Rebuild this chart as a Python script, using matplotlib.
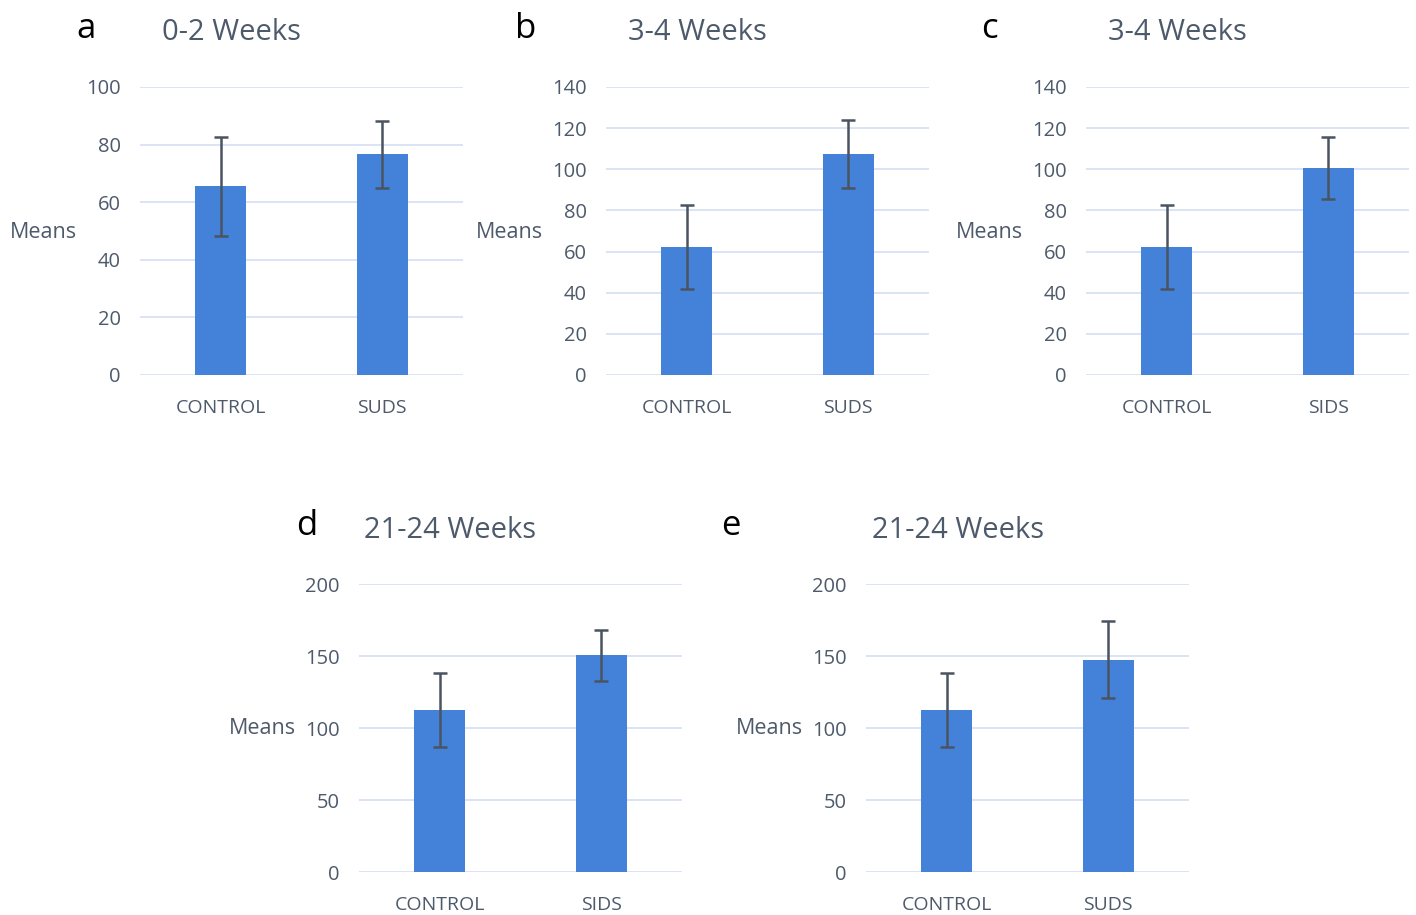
import matplotlib.pyplot as plt

W, H = 1416, 915

panel_letters = ["a", "b", "c", "d", "e"]
panel_titles = ["0-2 Weeks", "3-4 Weeks", "3-4 Weeks", "21-24 Weeks", "21-24 Weeks"]
categories = [
    ["CONTROL", "SUDS"],
    ["CONTROL", "SUDS"],
    ["CONTROL", "SIDS"],
    ["CONTROL", "SIDS"],
    ["CONTROL", "SUDS"],
]
means = [
    [65.5, 76.7],
    [62.2, 107.4],
    [62.2, 100.6],
    [112.5, 150.5],
    [112.5, 147.5],
]
errors = [
    [17.3, 11.6],
    [20.2, 16.4],
    [20.2, 15.0],
    [26.0, 17.7],
    [26.0, 27.0],
]
y_max = [100, 140, 140, 200, 200]
y_step = [20, 20, 20, 50, 50]

# axes boxes in pixels: left, top, right, bottom
boxes = [
    (140, 87, 463, 375),
    (606, 87, 929, 375),
    (1086, 87, 1409, 375),
    (359, 584, 682, 872),
    (866, 584, 1189, 872),
]
letter_x = [86, 526, 989, 307, 731]
title_x = [162, 628, 1108, 364, 872]

BAR = "#4482DA"
GRID = "#D3DFF3"
TXT = "#4D5A6B"
ERR = "#4A5461"

plt.rcParams["font.family"] = ["Open Sans", "DejaVu Sans"]

fig = plt.figure(figsize=(W / 100, H / 100), dpi=100)

for i in range(5):
    l, t, r, b = boxes[i]
    ax = fig.add_axes([l / W, 1 - b / H, (r - l) / W, (b - t) / H])
    x = list(range(len(categories[i])))
    ax.bar(x, means[i], width=0.316, color=BAR, zorder=3)
    ax.errorbar(x, means[i], yerr=errors[i], fmt="none", ecolor=ERR,
                elinewidth=1.8, capsize=5, capthick=1.8, zorder=4)
    ax.set_xlim(-0.5, len(x) - 0.5)
    ax.set_ylim(0, y_max[i])
    ax.set_yticks(range(0, y_max[i] + 1, y_step[i]))
    ax.set_xticks(x)
    ax.set_xticklabels(categories[i], fontsize=14)
    ax.tick_params(length=0, labelcolor=TXT)
    ax.tick_params(axis="y", pad=14, labelsize=14.5)
    ax.tick_params(axis="x", pad=17)
    ax.yaxis.grid(True, color=GRID, linewidth=1.2, zorder=0)
    ax.set_axisbelow(True)
    for s in ax.spines.values():
        s.set_visible(False)

    # panel letter, title and horizontal "Means" label
    title_y = t - 55
    fig.text(letter_x[i] / W, 1 - (title_y - 3) / H, panel_letters[i], fontsize=25,
             color="black", ha="center", va="center")
    fig.text(title_x[i] / W, 1 - (title_y + 1) / H, panel_titles[i], fontsize=21,
             color=TXT, ha="left", va="center")
    fig.text((l - 63) / W, 1 - (t + 145) / H, "Means", fontsize=15.5,
             color=TXT, ha="right", va="center")

fig.savefig("out.png", dpi=100)
